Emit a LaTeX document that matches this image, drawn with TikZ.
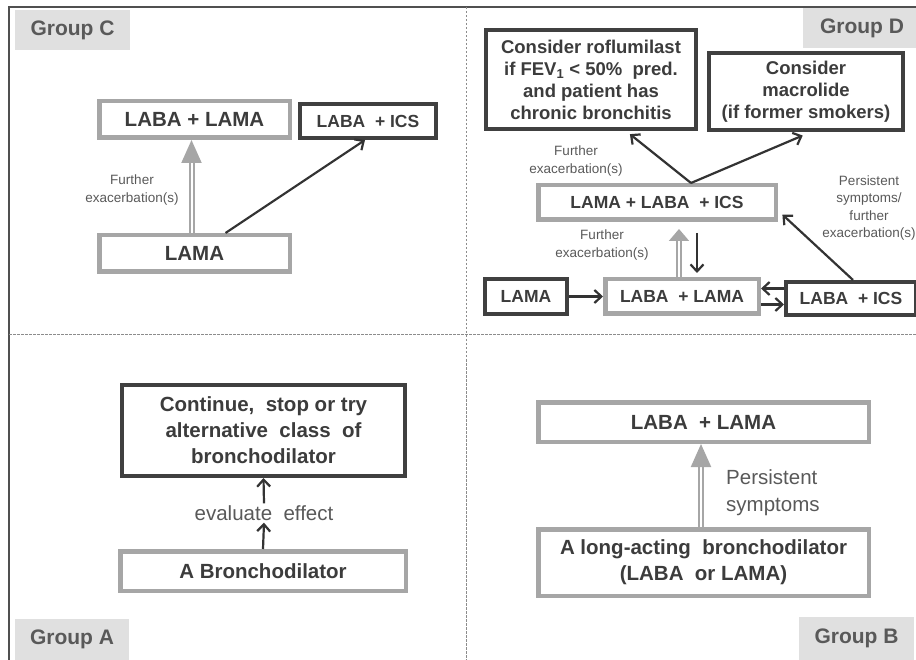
\documentclass[tikz,border=0pt]{standalone}
\usepackage{fontspec}
\setmainfont{Liberation Sans}
\usepackage{xcolor}
\usepackage{tikz}
\usetikzlibrary{arrows.meta}

\definecolor{boxgray}{HTML}{A6A6A6}
\definecolor{darkline}{HTML}{404040}
\definecolor{textdark}{HTML}{3C3C3C}
\definecolor{textgray}{HTML}{595959}
\definecolor{labelfill}{HTML}{E0E0E0}
\definecolor{frameline}{HTML}{505050}
\definecolor{dashgray}{HTML}{8C8C8C}
\definecolor{arrowdark}{HTML}{333333}

\tikzset{
  graybox/.style={draw=boxgray, line width=4.5pt, fill=white, text=textdark,
    align=center, inner sep=0pt},
  darkbox/.style={draw=darkline, line width=4pt, fill=white, text=textdark,
    align=center, inner sep=0pt},
  textL/.style={font=\fontsize{20.5}{26}\selectfont\bfseries},
  textM/.style={font=\fontsize{18.5}{22}\selectfont\bfseries},
  textS/.style={font=\fontsize{17.5}{21}\selectfont\bfseries},
  grouplabel/.style={fill=labelfill, text=textgray, inner sep=0pt,
    font=\fontsize{21}{25}\selectfont\bfseries, minimum width=115pt, minimum height=40pt},
  smalltext/.style={text=textgray, font=\fontsize{13.5}{17.5}\selectfont, align=center},
  bigtext/.style={text=textgray, font=\fontsize{20.5}{27}\selectfont, inner sep=2pt},
  flowarrow/.style={draw=arrowdark, line width=2.2pt, -{Straight Barb[length=7pt,width=13pt]}},
  dblarrow/.style={draw=boxgray, line width=2pt, double=white, double distance=2pt,
    -{Triangle[length=#1,width=20pt]}},
  dblarrow/.default=23pt,
}

\begin{document}
\begin{tikzpicture}[x=1pt,y=-1pt]
\useasboundingbox (0,0) rectangle (916,660);
\clip (0,0) rectangle (916,660);
% Frame and quadrant dividers
\draw[frameline, line width=2pt] (9,660) -- (9,7) -- (916,7);
\draw[dashgray, line width=1pt, dash pattern=on 2.5pt off 1.5pt] (466.5,7) -- (466.5,660);
\draw[dashgray, line width=1pt, dash pattern=on 2.5pt off 1.5pt] (9,335) -- (916,335);

% Group labels
\node[grouplabel] (labC) at (72.5,30) {Group C};
\node[grouplabel, minimum width=118pt] (labD) at (862,28) {Group D};
\node[grouplabel, minimum width=114pt, minimum height=41pt] (labA) at (72,639.5) {Group A};
\node[grouplabel, minimum height=43pt] (labB) at (856.5,638.5) {Group B};

% Group C
\node[graybox, textL, minimum width=190.5pt, minimum height=36.5pt] (cLL) at (194.5,119.5) {LABA + LAMA};
\node[darkbox, textS, minimum width=136pt, minimum height=34pt] (cLI) at (368,121) {LABA~ + ICS};
\node[graybox, textL, minimum width=190.5pt, minimum height=36.5pt] (cLAMA) at (194.5,253.5) {LAMA};
\draw[dblarrow] ([xshift=-3pt]cLAMA.north) -- ([xshift=-3pt]cLL.south);
\node[smalltext] (cFur) at (132,190) {Further\\exacerbation(s)};
\draw[flowarrow] ([xshift=31pt]cLAMA.north) -- ([xshift=-3pt]cLI.south);

% Group D
\node[darkbox, textM, minimum width=210pt, minimum height=99pt] (dRof) at (591,79.5)
  {Consider roflumilast\\if FEV\textsubscript{1} < 50\%~ pred.\\and patient has\\chronic bronchitis};
\node[darkbox, textM, minimum width=194pt, minimum height=77pt] (dMac) at (806,91.5)
  {Consider\\macrolide\\(if former smokers)};
\node[graybox, textS, minimum width=237.5pt, minimum height=34.5pt] (dTri) at (657,202.5) {LAMA + LABA~ + ICS};
\node[darkbox, textS, minimum width=82pt, minimum height=35pt] (dLAMA) at (526,296.5) {LAMA};
\node[graybox, textS, minimum width=153.5pt, minimum height=34.5pt] (dLL) at (682,296.5) {LABA~ + LAMA};
\node[darkbox, textS, minimum width=130pt, minimum height=33pt] (dLI) at (851,298.5) {LABA~ + ICS};
\node[smalltext] (dFurA) at (576,161) {Further\\exacerbation(s)};
\node[smalltext] (dFurB) at (602,245) {Further\\exacerbation(s)};
\node[smalltext] (dPers) at (869,208) {Persistent\\symptoms/\\further\\exacerbation(s)};
\draw[flowarrow, shorten >=5pt] ([xshift=34pt]dTri.north) -- ([xshift=35pt]dRof.south);
\draw[flowarrow, shorten >=9pt] ([xshift=34pt]dTri.north) -- ([xshift=5pt]dMac.south);
\draw[dblarrow=12pt, shorten >=7pt] ([xshift=-3pt]dLL.north) -- ([xshift=-3pt]dLL.north |- dTri.south);
\draw[flowarrow, shorten <=11pt, shorten >=4pt] ([xshift=40pt]dTri.south) -- ([xshift=15pt]dLL.north);
\draw[flowarrow] (dLAMA.east) -- (dLL.west);
\draw[flowarrow] ([yshift=10pt]dLI.west) -- ([yshift=10pt]dLI.west -| dLL.east);
\draw[flowarrow] ([yshift=-6pt]dLI.west -| dLL.east) -- ([yshift=-6pt]dLI.west);
\draw[flowarrow, shorten >=6pt] ([xshift=2pt]dLI.north) -- ([yshift=-8pt]dTri.east);

% Group A
\node[darkbox, textL, minimum width=283pt, minimum height=91pt] (aCont) at (263.5,430.5)
  {Continue,~ stop or try\\alternative~ class~ of\\bronchodilator};
\node[graybox, textL, minimum width=285.5pt, minimum height=39.5pt] (aBron) at (263,571) {A Bronchodilator};
\node[bigtext] (aEval) at (264,513) {evaluate~ effect};
\draw[flowarrow] (aBron.north) -- (aEval.south);
\draw[flowarrow] (aEval.north) -- (aCont.south);

% Group B
\node[graybox, textL, minimum width=330.5pt, minimum height=39.5pt] (bLL) at (703.5,422) {LABA~ + LAMA};
\node[graybox, textL, minimum width=330.5pt, minimum height=66.5pt] (bLong) at (703.5,562.5)
  {A long-acting~ bronchodilator\\(LABA~ or LAMA)};
\node[bigtext, anchor=west, align=left] (bPers) at (724,493) {Persistent\\symptoms};
\draw[dblarrow] ([xshift=-2.5pt]bLong.north) -- ([xshift=-2.5pt]bLL.south);
\end{tikzpicture}
\end{document}
